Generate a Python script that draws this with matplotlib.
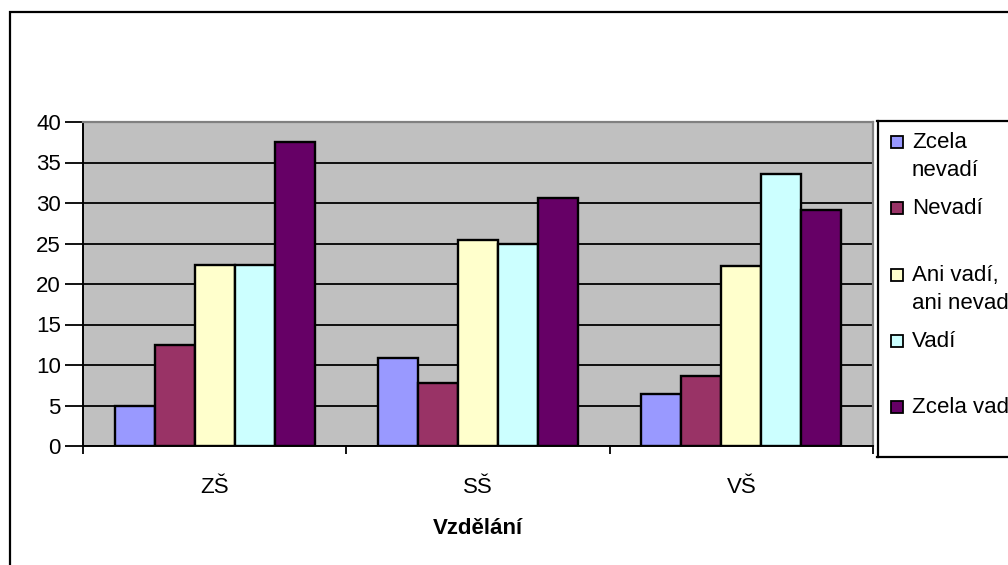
import matplotlib
matplotlib.use("Agg")
import matplotlib.pyplot as plt
from matplotlib.patches import Rectangle
import numpy as np

plt.rcParams['font.family'] = ['Liberation Sans', 'DejaVu Sans']

# data
categories = ['ZŠ', 'SŠ', 'VŠ']
series = ['Zcela\nnevadí', 'Nevadí', 'Ani vadí,\nani nevadí', 'Vadí', 'Zcela vadí']
zcela_nevadi = [5.0, 10.9, 6.4]
nevadi = [12.5, 7.8, 8.6]
ani_vadi_ani_nevadi = [22.4, 25.4, 22.2]
vadi = [22.4, 24.9, 33.6]
zcela_vadi = [37.5, 30.6, 29.1]
values = [zcela_nevadi, nevadi, ani_vadi_ani_nevadi, vadi, zcela_vadi]
colors = ['#9999FF', '#993366', '#FFFFCC', '#CCFFFF', '#660066']
yticks = [0, 5, 10, 15, 20, 25, 30, 35, 40]
xlabel = 'Vzdělání'

W, H = 1008, 565
fig = plt.figure(figsize=(W / 100, H / 100), dpi=100)

def fx(px):
    return px / W

def fy(py):
    return 1 - py / H

# outer chart frame (runs off the right and bottom edges)
fig.patches.append(Rectangle((fx(9.5), fy(620)), fx(1100), fy(11.5) - fy(620),
                             transform=fig.transFigure, fill=False,
                             edgecolor='black', linewidth=1.6, zorder=0))

ax = fig.add_axes([fx(83), fy(446), fx(873) - fx(83), fy(122) - fy(446)])
ax.set_facecolor('#C0C0C0')

x = np.arange(len(categories))
bw = 0.152
for i, (vals, col) in enumerate(zip(values, colors)):
    ax.bar(x + (i - 2) * bw, vals, bw, color=col, edgecolor='black',
           linewidth=1.7, zorder=3)

ax.set_xlim(-0.5, 2.5)
ax.set_ylim(0, 40)
ax.set_yticks(yticks)
ax.yaxis.grid(True, color='black', linewidth=1.3, zorder=1)
ax.set_axisbelow(True)

ax.set_xticks(x)
ax.set_xticklabels(categories, fontsize=16)
ax.set_xticks([-0.5, 0.5, 1.5, 2.5], minor=True)
ax.tick_params(axis='x', which='major', length=0, pad=22)
ax.tick_params(axis='x', which='minor', length=6, width=1.3, direction='out')
ax.tick_params(axis='y', length=13, width=1.3, direction='out', pad=3,
               labelsize=16)

for side in ['top', 'right']:
    ax.spines[side].set_color('#808080')
    ax.spines[side].set_linewidth(1.6)
for side in ['left', 'bottom']:
    ax.spines[side].set_color('black')
    ax.spines[side].set_linewidth(1.4)

fig.text(fx(478), fy(528), xlabel, fontsize=16, fontweight='bold',
         ha='center', va='center')

# legend box, clipped by the figure's right edge like the reference
lax = fig.add_axes([fx(877.5), fy(457), fx(1100) - fx(877.5), fy(121) - fy(457)])
lax.set_xlim(877.5, 1100)
lax.set_ylim(457, 121)
lax.set_xticks([])
lax.set_yticks([])
lax.patch.set_facecolor('white')
for s in lax.spines.values():
    s.set_linewidth(1.6)
    s.set_color('black')

entry_y = [142, 208, 275, 341, 407]
line_gap = 28
for lbl, col, yy in zip(series, colors, entry_y):
    lax.add_patch(Rectangle((891, yy - 6), 12, 12, facecolor=col,
                            edgecolor='black', linewidth=1.3))
    for k, line in enumerate(lbl.split('\n')):
        lax.text(912, yy + k * line_gap, line, fontsize=16,
                 ha='left', va='center', clip_on=False)

fig.savefig('out.png', dpi=100)
